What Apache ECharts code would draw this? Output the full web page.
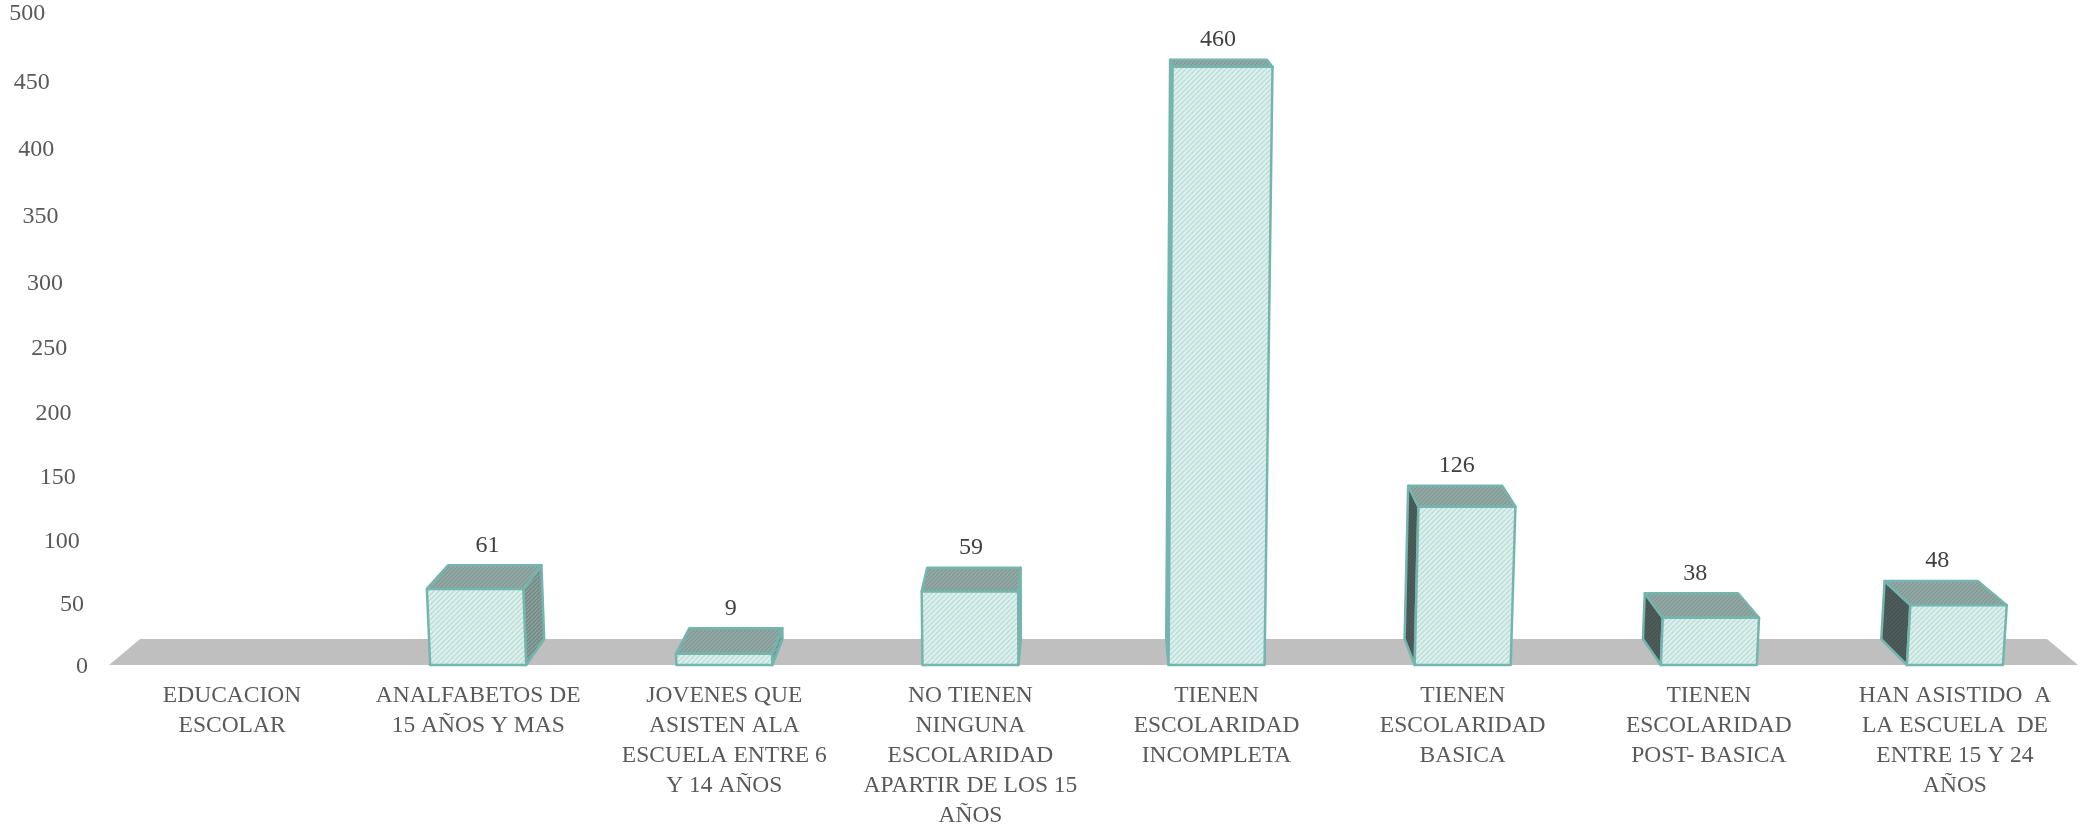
<!DOCTYPE html>
<html><head><meta charset="utf-8">
<style>html,body{margin:0;padding:0;background:#fff}#c{width:2082px;height:825px}</style>
<script src="https://cdn.jsdelivr.net/npm/echarts@6/dist/echarts.min.js"></script>
</head><body><div id="c"></div>
<script>
const categories = ["EDUCACION\nESCOLAR","ANALFABETOS DE\n15 AÑOS Y MAS","JOVENES QUE\nASISTEN ALA\nESCUELA ENTRE 6\nY 14 AÑOS","NO TIENEN\nNINGUNA\nESCOLARIDAD\nAPARTIR DE LOS 15\nAÑOS","TIENEN\nESCOLARIDAD\nINCOMPLETA","TIENEN\nESCOLARIDAD\nBASICA","TIENEN\nESCOLARIDAD\nPOST- BASICA","HAN ASISTIDO  A\nLA ESCUELA  DE\nENTRE 15 Y 24\nAÑOS"];
const values = [null,61,9,59,460,126,38,48];
const tickValues = [0,50,100,150,200,250,300,350,400,450,500];

const FONT = '"Liberation Serif", serif';
const TXT = '#595959';
const VP = [1095,-157], S = 0.9684;      // depth vanishing point and scale of the back plane
const BASE = 665;

function hatch(bg, line, step, w){
  const n = step, c = document.createElement('canvas'); c.width = n; c.height = n;
  const g = c.getContext('2d'); g.fillStyle = bg; g.fillRect(0,0,n,n);
  g.strokeStyle = line; g.lineWidth = w;
  for (let i=-n;i<=2*n;i+=n){ g.beginPath(); g.moveTo(i,n); g.lineTo(i+n,0); g.stroke(); }
  return {image:c, repeat:'repeat'};
}
const fillFront = hatch('#dcf0ee','#bcdcd8',5,1.5);
const fillTop   = hatch('#93a9a6','#7f9794',4,1.2);
const fillSide  = hatch('#8a9f9c','#6d8683',4,1.2);
const fillDark  = hatch('#4e5d5c','#465453',4,1.2);
const EDGE = '#74b5ad';

// mild camera perspective applied to the scale's pixel output
function warp(p){
  const h = BASE - p[1];
  const h2 = 0.9495*h/(1-0.0000773*h);
  const y = BASE - h2;
  return [p[0] + (p[0]-1070)*6.8e-5*h2, y];
}
const back = p => [VP[0]+(p[0]-VP[0])*S, VP[1]+(p[1]-VP[1])*S];
function poly(pts, fill){
  return {type:'polygon', shape:{points:pts}, style:{fill, stroke:EDGE, lineWidth:2.5, lineJoin:'round'}};
}

function renderFloor(params, api){
  const g = params.coordSys, l = g.x, r = g.x+g.width;
  const pts = [[l,BASE],[r,BASE],back([r,BASE]),back([l,BASE])];
  return {type:'polygon', shape:{points:pts}, style:{fill:'#bfbfbf'}};
}
function renderBar(params, api){
  const v = api.value(1);
  if (v == null || isNaN(v)) return null;
  const c = api.value(0), bw = 96;
  const b0 = api.coord([c,0]), t0 = api.coord([c,v]);
  const lb = warp([b0[0]-bw/2,b0[1]]), rb = warp([b0[0]+bw/2,b0[1]]);
  const lt = warp([t0[0]-bw/2,t0[1]]), rt = warp([t0[0]+bw/2,t0[1]]);
  const blb = back(lb), brb = back(rb), blt = back(lt), brt = back(rt);
  const kids = [];
  if (brb[0] > rb[0]+1 && b0[0] < VP[0]) kids.push(poly([rb,rt,brt,brb], fillSide));
  if (blb[0] < lb[0]) kids.push(poly([lb,lt,blt,blb], fillDark));
  kids.push(poly([lt,rt,brt,blt], fillTop));
  kids.push(poly([lb,rb,rt,lt], fillFront));
  kids.push({type:'text', style:{text:String(v), x:(blt[0]+brt[0])/2-3+0.009*(b0[0]-950), y:blt[1]-20,
    align:'center', verticalAlign:'middle', font:'24px '+FONT, fill:'#404040'}});
  return {type:'group', children:kids};
}
function renderTick(params, api){
  const p = warp(api.coord([0,api.value(1)]));
  const g = params.coordSys;
  return {type:'text', style:{text:String(api.value(1)), x:g.x-21+(g.x-1070)*6.8e-5*(BASE-p[1]), y:p[1]+2,
    align:'right', verticalAlign:'middle', font:'24px '+FONT, fill:TXT}};
}

const chart = echarts.init(document.getElementById('c'), null, {renderer:'canvas'});
chart.setOption({
  animation:false,
  backgroundColor:'#fff',
  grid:{left:109, right:4, top:12, bottom:160, outerBoundsMode:'none'},
  xAxis:{type:'category', data:categories, axisLine:{show:false}, axisTick:{show:false}, splitLine:{show:false},
    axisLabel:{interval:0, color:TXT, fontFamily:FONT, fontSize:23.5, lineHeight:30, margin:16, hideOverlap:false}},
  yAxis:{type:'value', min:0, max:500, interval:50, axisLabel:{show:false}, axisLine:{show:false}, axisTick:{show:false}, splitLine:{show:false}},
  series:[
    {type:'custom', name:'floor', renderItem:renderFloor, data:[[0,0]], silent:true, z:1, clip:false},
    {type:'custom', name:'ticks', renderItem:renderTick, data:tickValues.map(v=>[0,v]), encode:{x:0,y:1}, silent:true, z:3, clip:false},
    {type:'custom', name:'EDUCACION ESCOLAR', renderItem:renderBar, data:values.map((v,i)=>[i,v]), encode:{x:0,y:1}, z:2, clip:false}
  ]
});
</script></body></html>
